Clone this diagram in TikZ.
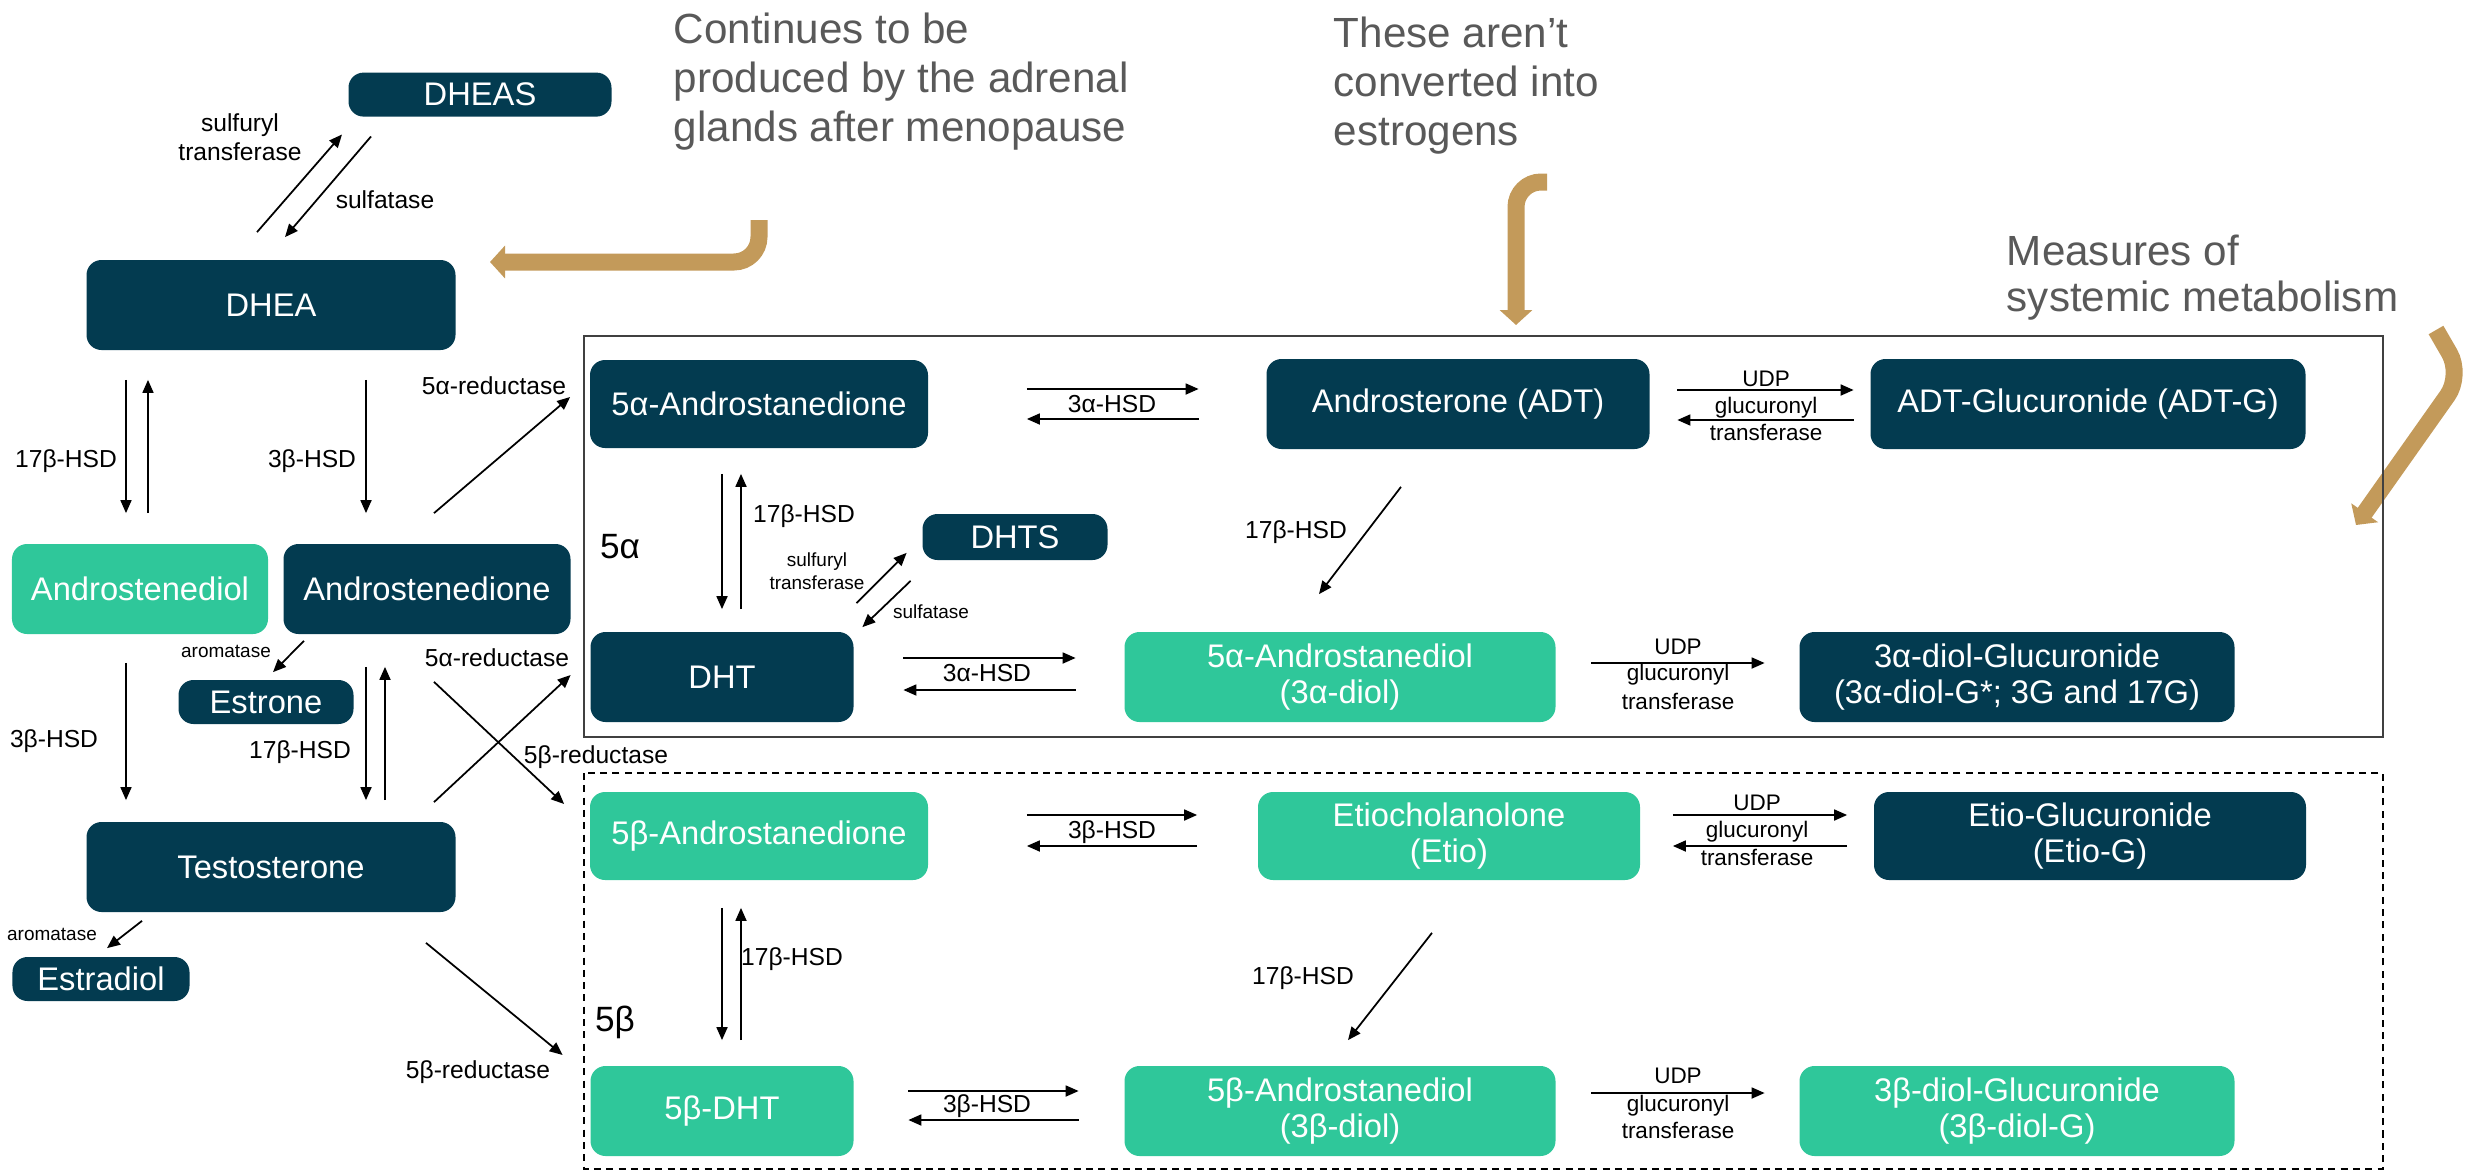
\documentclass[tikz,border=0pt]{standalone}
\usepackage{fontspec}
\setmainfont{Liberation Sans}
\usetikzlibrary{arrows.meta, calc}
\definecolor{scuro}{HTML}{033B50}
\definecolor{verde}{HTML}{2FC79A}
\definecolor{oro}{HTML}{C39A5A}
\definecolor{grigio}{HTML}{595959}

\begin{document}
\begin{tikzpicture}[
    >={Triangle[length=1.3mm,width=1.1mm]},
    every path/.style={line width=0.5pt},
    box/.style={rounded corners=0.15cm, text=white, align=center, inner sep=0pt, font=\fontsize{9.3}{10.5}\selectfont},
    darkbox/.style={box, fill=scuro},
    greenbox/.style={box, fill=verde},
    big/.style={minimum height=0.9cm},
    small/.style={minimum height=0.44cm},
    enz/.style={font=\fontsize{7}{8.2}\selectfont, inner sep=0pt, align=center},
    udp/.style={font=\fontsize{6.4}{7.4}\selectfont, inner sep=0pt},
    minienz/.style={font=\fontsize{5.4}{6.4}\selectfont, inner sep=0pt, align=center},
    note/.style={text=grigio, font=\fontsize{12}{14}\selectfont, align=left, inner sep=0pt, anchor=north west},
    gold/.style={draw=oro, line width=0.17cm, rounded corners=0.25cm, -{Triangle[length=0.15cm,width=0.32cm]}}
]
    \useasboundingbox (0,0) rectangle (24.73,-11.72);
    % Note
    \node[note] (nota1) at (6.73,-0.12) {Continues to be\\produced by the adrenal\\glands after menopause};
    \node[note] (nota2) at (13.33,-0.16) {These aren’t\\converted into\\estrogens};
    \node[note, font=\fontsize{12}{13}\selectfont] (nota3) at (20.06,-2.34) {Measures of\\systemic metabolism};
    % Frecce dorate
    \draw[gold] (7.59,-2.20) -- (7.59,-2.62) -- (4.90,-2.62);
    \draw[gold] (15.47,-1.82) -- (15.16,-1.82) -- (15.16,-3.25);
    \draw[gold] (24.36,-3.30) -- (24.62,-3.75) -- (23.56,-5.25);

    % Colonna sinistra
    \node[darkbox, small, minimum width=2.63cm] (dheas) at (4.80,-0.946) {DHEAS};
    \node[darkbox, big, minimum width=3.69cm] (dhea) at (2.71,-3.05) {DHEA};
    \node[greenbox, big, minimum width=2.56cm] (adiol) at (1.40,-5.89) {Androstenediol};
    \node[darkbox, big, minimum width=2.87cm] (adione) at (4.27,-5.89) {Androstenedione};
    \node[darkbox, small, minimum width=1.75cm] (estrone) at (2.66,-7.02) {Estrone};
    \node[darkbox, big, minimum width=3.69cm] (testo) at (2.71,-8.67) {Testosterone};
    \node[darkbox, small, minimum width=1.77cm] (estradiol) at (1.01,-9.79) {Estradiol};

    % Riquadro 5 alfa
    \draw[draw=black!75, line width=0.6pt] (5.84,-3.36) rectangle (23.83,-7.37);
    \node[font=\fontsize{10}{12}\selectfont, inner sep=0pt] (a5) at (6.20,-5.47) {5α};
    \node[darkbox, big, minimum width=3.38cm, minimum height=0.88cm] (adione5a) at (7.59,-4.04) {5α-Androstanedione};
    \node[darkbox, big, minimum width=3.83cm] (adt) at (14.58,-4.04) {Androsterone (ADT)};
    \node[darkbox, big, minimum width=4.35cm] (adtg) at (20.88,-4.04) {ADT-Glucuronide (ADT-G)};
    \node[darkbox, minimum width=1.85cm, minimum height=0.46cm] (dhts) at (10.15,-5.37) {DHTS};
    \node[darkbox, big, minimum width=2.63cm] (dht) at (7.22,-6.77) {DHT};
    \node[greenbox, big, minimum width=4.31cm] (adiol3a) at (13.40,-6.77) {5α-Androstanediol\\(3α-diol)};
    \node[darkbox, big, minimum width=4.35cm] (adiol3ag) at (20.17,-6.77) {3α-diol-Glucuronide\\(3α-diol-G*; 3G and 17G)};

    % Riquadro 5 beta
    \draw[dash pattern=on 2pt off 1.5pt] (5.84,-7.73) rectangle (23.83,-11.69);
    \node[font=\fontsize{10}{12}\selectfont, inner sep=0pt] (b5) at (6.15,-10.22) {5β};
    \node[greenbox, big, minimum width=3.38cm, minimum height=0.88cm] (bdione) at (7.59,-8.36) {5β-Androstanedione};
    \node[greenbox, big, minimum width=3.82cm, minimum height=0.88cm] (etio) at (14.49,-8.36) {Etiocholanolone\\(Etio)};
    \node[darkbox, big, minimum width=4.32cm, minimum height=0.88cm] (etiog) at (20.90,-8.36) {Etio-Glucuronide\\(Etio-G)};
    \node[greenbox, big, minimum width=2.63cm] (bdht) at (7.22,-11.11) {5β-DHT};
    \node[greenbox, big, minimum width=4.31cm] (bdiol) at (13.40,-11.11) {5β-Androstanediol\\(3β-diol)};
    \node[greenbox, big, minimum width=4.35cm] (bdiolg) at (20.17,-11.11) {3β-diol-Glucuronide\\(3β-diol-G)};

    % DHEA <-> DHEAS
    \draw[->] ([xshift=-.14cm,yshift=.27cm]dhea.north) -- ([xshift=-1.38cm,yshift=-.17cm]dheas.south);
    \draw[->] ([xshift=-1.09cm,yshift=-.19cm]dheas.south) -- ([xshift=.14cm,yshift=.22cm]dhea.north);
    \node[enz] (lsulf) at (2.40,-1.37) {sulfuryl\\transferase};
    \node[enz] (lsulfat) at (3.85,-2.00) {sulfatase};
    % DHEA -> Androstenediol, Androstenedione
    \draw[->, shorten <=.29cm, shorten >=.30cm] ($(adiol.north |- dhea.south)+(-.14,0)$) -- ($(adiol.north)+(-.14,0)$);
    \draw[->, shorten <=.30cm, shorten >=.29cm] ($(adiol.north)+(.08,0)$) -- ($(adiol.north |- dhea.south)+(.08,0)$);
    \draw[->, shorten <=.29cm, shorten >=.30cm] ($(adione.north |- dhea.south)+(-.61,0)$) -- ($(adione.north)+(-.61,0)$);
    \node[enz] (l17a) at (0.66,-4.61) {17β-HSD};
    \node[enz] (l3a) at (3.12,-4.61) {3β-HSD};
    % 5a-reductase
    \draw[->] ([xshift=.07cm,yshift=.30cm]adione.north) -- ([xshift=-.19cm,yshift=.07cm]adione5a.west);
    \node[enz] (lred1) at (4.94,-3.86) {5α-reductase};
    % aromatasi
    \draw[->] ([xshift=-1.23cm,yshift=-.06cm]adione.south) -- ([xshift=.07cm,yshift=.07cm]estrone.north);
    \node[minienz] (larom1) at (2.26,-6.51) {aromatase};
    \draw[->] ([xshift=-1.29cm,yshift=-.08cm]testo.south) -- ([xshift=.06cm,yshift=.08cm]estradiol.north);
    \node[minienz] (larom2) at (0.52,-9.34) {aromatase};
    % -> Testosterone
    \draw[->, shorten <=.28cm, shorten >=.21cm] ($(adiol.south)+(-.14,0)$) -- ($(adiol.south |- testo.north)+(-.14,0)$);
    \node[enz] (l3b) at (0.54,-7.41) {3β-HSD};
    \draw[->, shorten <=.32cm, shorten >=.21cm] ($(adione.south)+(-.61,0)$) -- ($(adione.south |- testo.north)+(-.61,0)$);
    \draw[->, shorten <=.21cm, shorten >=.32cm] ($(adione.south |- testo.north)+(-.42,0)$) -- ($(adione.south)+(-.42,0)$);
    \node[enz] (l17b) at (3.00,-7.52) {17β-HSD};
    % incrocio
    \draw[->] ([xshift=.07cm,yshift=-.47cm]adione.south) -- ([xshift=-.25cm,yshift=.32cm]bdione.west);
    \node[enz] (lred2) at (5.96,-7.57) {5β-reductase};
    \draw[->] ([xshift=1.63cm,yshift=.19cm]testo.north) -- ([xshift=-.19cm,yshift=.02cm]dht.west);
    \node[enz] (lred3) at (4.97,-6.58) {5α-reductase};
    \draw[->] ([xshift=1.55cm,yshift=-.30cm]testo.south) -- ([xshift=-.27cm,yshift=.56cm]bdht.west);
    \node[enz] (lred4) at (4.78,-10.72) {5β-reductase};

    % frecce 5 alfa
    \draw[->, shorten <=.98cm, shorten >=.67cm] ([yshift=.15cm]adione5a.east) -- ([yshift=.15cm]adt.west);
    \draw[->, shorten <=.67cm, shorten >=.98cm] ([yshift=-.15cm]adt.west) -- ([yshift=-.15cm]adione5a.east);
    \node[enz] (l3c) at (11.12,-4.04) {3α-HSD};
    \draw[->, shorten <=.27cm, shorten >=.16cm] ([yshift=.14cm]adt.east) -- ([yshift=.14cm]adtg.west);
    \draw[->, shorten <=.16cm, shorten >=.27cm] ([yshift=-.16cm]adtg.west) -- ([yshift=-.16cm]adt.east);
    \node[udp] (lu1) at (17.66,-3.79) {UDP};
    \node[udp] (lg1) at (17.66,-4.08) {glucuronyl};
    \node[udp] (lt1) at (17.66,-4.32) {transferase};
    \draw[->, shorten <=.25cm, shorten >=.22cm] ($(adione5a.south)+(-.37,0)$) -- ($(adione5a.south |- dht.north)+(-.37,0)$);
    \draw[->, shorten <=.22cm, shorten >=.25cm] ($(adione5a.south |- dht.north)+(-.18,0)$) -- ($(adione5a.south)+(-.18,0)$);
    \node[enz] (l17c) at (8.04,-5.16) {17β-HSD};
    \draw[->] ([xshift=.02cm,yshift=.28cm]dht.north east) -- ([xshift=-.15cm,yshift=.08cm]dhts.south west);
    \draw[->] ([xshift=-.11cm,yshift=-.20cm]dhts.south west) -- ([xshift=.08cm,yshift=.04cm]dht.north east);
    \node[minienz] (lsulf2) at (8.17,-5.71) {sulfuryl\\transferase};
    \node[minienz] (lsulfat2) at (9.31,-6.12) {sulfatase};
    \draw[->] ([xshift=-.57cm,yshift=-.37cm]adt.south) -- ([xshift=-.21cm,yshift=.37cm]adiol3a.north);
    \node[enz] (l17d) at (12.96,-5.32) {17β-HSD};
    \draw[->, shorten <=.49cm, shorten >=.48cm] ([yshift=.19cm]dht.east) -- ([yshift=.19cm]adiol3a.west);
    \draw[->, shorten <=.48cm, shorten >=.49cm] ([yshift=-.13cm]adiol3a.west) -- ([yshift=-.13cm]dht.east);
    \node[enz] (l3d) at (9.87,-6.73) {3α-HSD};
    \draw[->, shorten <=.35cm, shorten >=.34cm] ([yshift=.14cm]adiol3a.east) -- ([yshift=.14cm]adiol3ag.west);
    \node[udp] (lu2) at (16.78,-6.47) {UDP};
    \node[udp] (lg2) at (16.78,-6.75) {glucuronyl};
    \node[udp] (lt2) at (16.78,-7.01) {transferase};

    % frecce 5 beta
    \draw[->, shorten <=.98cm, shorten >=.60cm] ([yshift=.21cm]bdione.east) -- ([yshift=.21cm]etio.west);
    \draw[->, shorten <=.60cm, shorten >=.98cm] ([yshift=-.10cm]etio.west) -- ([yshift=-.10cm]bdione.east);
    \node[enz] (l3e) at (11.12,-8.32) {3β-HSD};
    \draw[->, shorten <=.32cm, shorten >=.26cm] ([yshift=.21cm]etio.east) -- ([yshift=.21cm]etiog.west);
    \draw[->, shorten <=.26cm, shorten >=.32cm] ([yshift=-.10cm]etiog.west) -- ([yshift=-.10cm]etio.east);
    \node[udp] (lu3) at (17.57,-8.03) {UDP};
    \node[udp] (lg3) at (17.57,-8.32) {glucuronyl};
    \node[udp] (lt3) at (17.57,-8.57) {transferase};
    \draw[->, shorten <=.27cm, shorten >=.25cm] ($(bdione.south)+(-.37,0)$) -- ($(bdione.south |- bdht.north)+(-.37,0)$);
    \draw[->, shorten <=.25cm, shorten >=.27cm] ($(bdione.south |- bdht.north)+(-.18,0)$) -- ($(bdione.south)+(-.18,0)$);
    \node[enz] (l17e) at (7.92,-9.59) {17β-HSD};
    \draw[->] ([xshift=-.17cm,yshift=-.52cm]etio.south) -- ([xshift=.08cm,yshift=.25cm]bdiol.north);
    \node[enz] (l17f) at (13.03,-9.78) {17β-HSD};
    \draw[->, shorten <=.54cm, shorten >=.45cm] ([yshift=.20cm]bdht.east) -- ([yshift=.20cm]bdiol.west);
    \draw[->, shorten <=.45cm, shorten >=.54cm] ([yshift=-.09cm]bdiol.west) -- ([yshift=-.09cm]bdht.east);
    \node[enz] (l3f) at (9.87,-11.06) {3β-HSD};
    \draw[->, shorten <=.35cm, shorten >=.34cm] ([yshift=.18cm]bdiol.east) -- ([yshift=.18cm]bdiolg.west);
    \node[udp] (lu4) at (16.78,-10.76) {UDP};
    \node[udp] (lg4) at (16.78,-11.06) {glucuronyl};
    \node[udp] (lt4) at (16.78,-11.30) {transferase};
\end{tikzpicture}
\end{document}
